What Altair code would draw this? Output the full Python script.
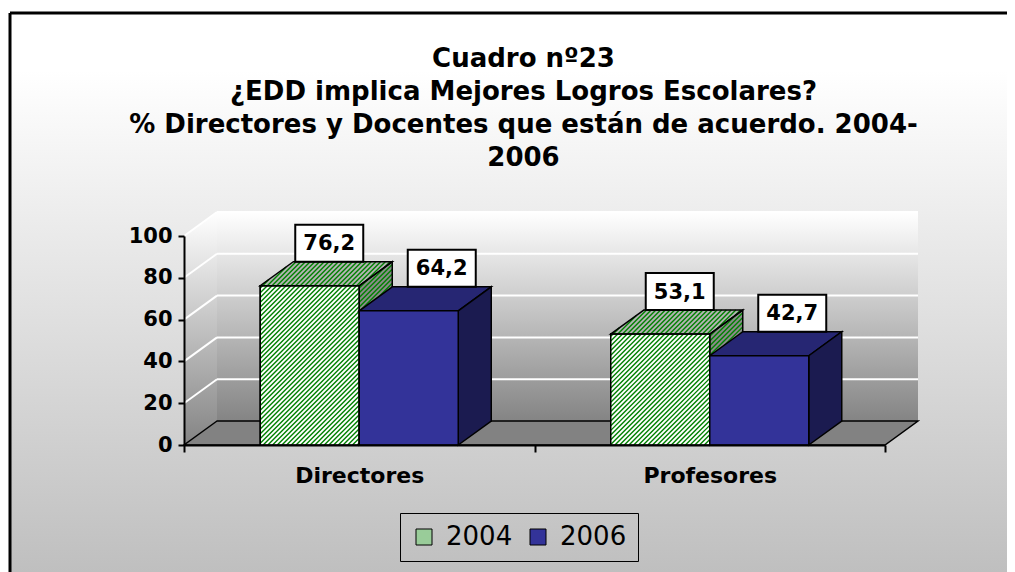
import altair as alt
import pandas as pd

# ---------------- data ----------------
categories = ["Directores", "Profesores"]
years = ["2004", "2006"]
values_2004 = [76.2, 53.1]
values_2006 = [64.2, 42.7]
y_ticks = [0, 20, 40, 60, 80, 100]
title_lines = [
    "Cuadro nº23",
    "¿EDD implica Mejores Logros Escolares?",
    "% Directores y Docentes que están de acuerdo. 2004-",
    "2006",
]

# ---------------- layout / style ----------------
W, H = 997, 575
X_RANGE = [174, 875]
Y_RANGE = [432, 223]
PX_X = (X_RANGE[1] - X_RANGE[0]) / 2.0
PX_Y = (Y_RANGE[0] - Y_RANGE[1]) / 100.0
BAR_W = 99 / PX_X
DX = 33 / PX_X
DY = 24 / PX_Y
FONT = "DejaVu Sans"
GREEN = "#008000"
HATCH_PERIOD = 4.7
HATCH_WIDTH = 1.4
BLUE_FRONT, BLUE_TOP, BLUE_SIDE = "#333399", "#262673", "#1b1b50"
LABEL_DX = {"2004": 19.5, "2006": 33}
BOX_W, BOX_H = 68, 37

wall_grad = {
    "gradient": "linear", "x1": 0, "y1": 0, "x2": 0, "y2": 1,
    "stops": [{"offset": 0, "color": "#ffffff"}, {"offset": 1, "color": "#848484"}],
}
bg_grad = {
    "gradient": "linear", "x1": 0, "y1": 0, "x2": 0, "y2": 1,
    "stops": [{"offset": 0, "color": "#ffffff"}, {"offset": 0.1, "color": "#ffffff"},
              {"offset": 1, "color": "#bdbdbd"}],
}


def hatch_segments(poly, face_id, period=HATCH_PERIOD):
    """Clip '/' stripes (u - w = c, pixel-like units) to a convex polygon given in data units."""
    P = [(x * PX_X, y * PX_Y) for x, y in poly]
    area = sum(P[i][0] * P[(i + 1) % len(P)][1] - P[(i + 1) % len(P)][0] * P[i][1]
               for i in range(len(P)))
    sgn = 1 if area > 0 else -1
    cs = [u - w for u, w in P]
    cmin, cmax = min(cs), max(cs)
    out = []
    c = cmin + period / 2
    while c < cmax:
        tmin, tmax = -1e9, 1e9
        ok = True
        for i in range(len(P)):
            a, b = P[i], P[(i + 1) % len(P)]
            nu, nw = -(b[1] - a[1]) * sgn, (b[0] - a[0]) * sgn
            den = nu + nw
            num = nu * (c - a[0]) - nw * a[1]
            if abs(den) < 1e-12:
                if num < 0:
                    ok = False
                    break
            elif den > 0:
                tmin = max(tmin, -num / den)
            else:
                tmax = min(tmax, -num / den)
        if ok and tmax - tmin > 0.3:
            out.append(dict(face=face_id,
                            xa=(c + tmin) / PX_X, ya=tmin / PX_Y,
                            xb=(c + tmax) / PX_X, yb=tmax / PX_Y))
        c += period
    return out


# ---------------- derived tables ----------------
rows, tops, sides, stripes = [], [], [], []
for i, c in enumerate(categories):
    for year, vals in zip(years, [values_2004, values_2006]):
        v = vals[i]
        center = i + 0.5
        x0 = center - BAR_W if year == "2004" else center
        x1 = x0 + BAR_W
        bid = f"{c}-{year}"
        rows.append(dict(id=bid, cat=c, year=year, value=v, x0=x0, x1=x1,
                         lx=(x0 + x1) / 2 + LABEL_DX[year] / PX_X))
        tops += [dict(id=bid, cat=c, year=year, y=v, xa=x0, xb=x1),
                 dict(id=bid, cat=c, year=year, y=v + DY, xa=x0 + DX, xb=x1 + DX)]
        sides += [dict(id=bid, cat=c, year=year, x=x1, ya=0, yb=v),
                  dict(id=bid, cat=c, year=year, x=x1 + DX, ya=DY, yb=v + DY)]
        if year == "2004":
            stripes += hatch_segments([(x0, 0), (x1, 0), (x1, v), (x0, v)], bid + "-front")
            stripes += hatch_segments([(x0, v), (x1, v), (x1 + DX, v + DY), (x0 + DX, v + DY)],
                                      bid + "-top")
            stripes += hatch_segments([(x1, 0), (x1 + DX, DY), (x1 + DX, v + DY), (x1, v)],
                                      bid + "-side")
bars = pd.DataFrame(rows)
tops = pd.DataFrame(tops)
sides = pd.DataFrame(sides)
stripes = pd.DataFrame(stripes)

wall = pd.DataFrame([dict(xa=DX, xb=2 + DX, ya=DY, yb=y_ticks[-1] + DY)])
left_wall = pd.DataFrame([dict(x=0, ya=0, yb=y_ticks[-1]), dict(x=DX, ya=DY, yb=y_ticks[-1] + DY)])
floor = pd.DataFrame([dict(y=0, xa=0, xb=2), dict(y=DY, xa=DX, xb=2 + DX)])
grid = []
for v in y_ticks[1:]:
    grid.append(dict(xa=0, ya=v, xb=DX, yb=v + DY))
    grid.append(dict(xa=DX, ya=v + DY, xb=2 + DX, yb=v + DY))
grid = pd.DataFrame(grid)

xs = alt.Scale(domain=[0, 2], range=X_RANGE, nice=False, zero=False)
ys = alt.Scale(domain=[0, 100], range=Y_RANGE, nice=False, zero=False)

label_expr = (f"datum.value == 0.5 ? '{categories[0]}' : "
              f"datum.value == 1.5 ? '{categories[1]}' : ''")
x_axis = alt.Axis(
    values=[0, 0.5, 1, 1.5, 2], title=None, grid=False, zindex=1,
    domainColor="black", domainWidth=2, tickColor="black", tickWidth=2, tickSize=7,
    tickOpacity={"condition": {"test": "datum.value % 1 != 0", "value": 0}, "value": 1},
    labelExpr=label_expr, labelFont=FONT, labelFontWeight="bold", labelFontSize=22,
    labelColor="black", labelPadding=13, labelOverlap=False, labelFlush=False,
    offset=-(H - Y_RANGE[0]),
)
y_axis = alt.Axis(
    values=y_ticks, title=None, grid=False, zindex=1,
    domainColor="black", domainWidth=2, tickColor="black", tickWidth=2, tickSize=6,
    labelFont=FONT, labelFontWeight="bold", labelFontSize=21, labelColor="black",
    labelPadding=6, offset=-X_RANGE[0],
)


def X(f):
    return alt.X(f, type="quantitative", scale=xs, axis=x_axis)


def Y(f):
    return alt.Y(f, type="quantitative", scale=ys, axis=y_axis)


def X2(f):
    return alt.X2(f)


def Y2(f):
    return alt.Y2(f)


layers = []
# chart background and frame (top and left edges; the rest runs off the page)
one = pd.DataFrame([{"bg": 1}])
layers.append(alt.Chart(one).mark_rect(fill=bg_grad).encode(
    x=alt.value(0), x2=alt.value(W), y=alt.value(0), y2=alt.value(H)))
layers.append(alt.Chart(one).mark_rule(color="black", strokeWidth=3).encode(
    x=alt.value(0), x2=alt.value(W), y=alt.value(0)))
layers.append(alt.Chart(one).mark_rule(color="black", strokeWidth=3).encode(
    x=alt.value(0), y=alt.value(0), y2=alt.value(H)))
# walls
layers.append(alt.Chart(wall).mark_rect(fill=wall_grad).encode(
    x=X("xa"), x2=X2("xb"), y=Y("ya"), y2=Y2("yb")))
layers.append(alt.Chart(left_wall).mark_area(orient="vertical", fill=wall_grad).encode(
    x=X("x"), y=Y("ya"), y2=Y2("yb")))
layers.append(alt.Chart(grid).mark_rule(color="white", strokeWidth=2).encode(
    x=X("xa"), x2=X2("xb"), y=Y("ya"), y2=Y2("yb")))
layers.append(alt.Chart(floor).mark_area(orient="horizontal", fill="#828282",
                                         stroke="black", strokeWidth=1.5).encode(
    y=Y("y"), x=X("xa"), x2=X2("xb")))

# front faces with legend (solid)
layers.append(alt.Chart(bars).mark_rect(stroke="black", strokeWidth=1.5, opacity=1).encode(
    x=X("x0"), x2=X2("x1"),
    y=Y("value"), y2=alt.Y2(datum=0),
    fill=alt.Fill("year:N", scale=alt.Scale(domain=years, range=["#99cc99", BLUE_FRONT]),
                  legend=alt.Legend(
                      orient="none", legendX=390, legendY=500, direction="horizontal",
                      title=None, symbolType="square", symbolSize=256,
                      symbolStrokeColor="black", symbolStrokeWidth=1,
                      labelFont=FONT, labelFontSize=26, labelColor="black",
                      strokeColor="black", padding=11, columnPadding=12, labelOffset=9,
                  )),
))

# 2004 hatched boxes: face fills, green stripes, outlines
f04 = "datum.year == '2004'"
layers.append(alt.Chart(tops).transform_filter(f04).mark_area(
    orient="horizontal", fill="#b4b4b4").encode(
    y=Y("y"), x=X("xa"), x2=X2("xb"), detail="id:N"))
layers.append(alt.Chart(sides).transform_filter(f04).mark_area(
    orient="vertical", fill="#8c8c8c").encode(
    x=X("x"), y=Y("ya"), y2=Y2("yb"), detail="id:N"))
layers.append(alt.Chart(bars).transform_filter(f04).mark_rect(fill="white").encode(
    x=X("x0"), x2=X2("x1"), y=Y("value"), y2=alt.Y2(datum=0)))
layers.append(alt.Chart(stripes).mark_rule(
    color=GREEN, strokeWidth=HATCH_WIDTH, strokeCap="butt").encode(
    x=X("xa"), x2=X2("xb"), y=Y("ya"), y2=Y2("yb")))
layers.append(alt.Chart(tops).transform_filter(f04).mark_area(
    orient="horizontal", fillOpacity=0, stroke="black", strokeWidth=1.5).encode(
    y=Y("y"), x=X("xa"), x2=X2("xb"), detail="id:N"))
layers.append(alt.Chart(sides).transform_filter(f04).mark_area(
    orient="vertical", fillOpacity=0, stroke="black", strokeWidth=1.5).encode(
    x=X("x"), y=Y("ya"), y2=Y2("yb"), detail="id:N"))
layers.append(alt.Chart(bars).transform_filter(f04).mark_rect(
    fillOpacity=0, stroke="black", strokeWidth=1.5).encode(
    x=X("x0"), x2=X2("x1"), y=Y("value"), y2=alt.Y2(datum=0)))

# 2006 solid boxes
f06 = "datum.year == '2006'"
layers.append(alt.Chart(tops).transform_filter(f06).mark_area(
    orient="horizontal", fill=BLUE_TOP, stroke="black", strokeWidth=1.5
).encode(y=Y("y"), x=X("xa"), x2=X2("xb"), detail="id:N"))
layers.append(alt.Chart(sides).transform_filter(f06).mark_area(
    orient="vertical", fill=BLUE_SIDE, stroke="black", strokeWidth=1.5
).encode(x=X("x"), y=Y("ya"), y2=Y2("yb"), detail="id:N"))
layers.append(alt.Chart(bars).transform_filter(f06).mark_rect(
    fill=BLUE_FRONT, stroke="black", strokeWidth=1.5
).encode(x=X("x0"), x2=X2("x1"), y=Y("value"), y2=alt.Y2(datum=0)))

# value labels
hh = BOX_H / BOX_W
box_path = f"M-1,-{hh:.4f}L1,-{hh:.4f}L1,{hh:.4f}L-1,{hh:.4f}Z"
lab_off = -(24 + BOX_H / 2)
layers.append(alt.Chart(bars).mark_point(
    shape=box_path, size=BOX_W ** 2, filled=True, fill="white", stroke="black",
    strokeWidth=2, opacity=1, yOffset=lab_off
).encode(x=X("lx"), y=Y("value")))
layers.append(alt.Chart(bars).transform_calculate(
    txt="replace(format(datum.value, '.1f'), '.', ',')"
).mark_text(
    font=FONT, fontWeight="bold", fontSize=21, color="black", baseline="middle",
    align="center", yOffset=lab_off + 1
).encode(x=X("lx"), y=Y("value"), text="txt:N"))

chart = alt.layer(*layers).properties(
    width=W, height=H,
    autosize=alt.AutoSizeParams(type="none"),
    padding={"left": 2, "top": 5, "right": 0, "bottom": 0},
    title=alt.Title(text=title_lines, font=FONT, fontSize=26, fontWeight="bold",
                    color="black", lineHeight=33, anchor="middle", frame="group",
                    offset=-159, dx=15),
).configure_view(
    strokeWidth=0, strokeOpacity=0
).configure(background="white")

chart.save("out.html", embed_options={"renderer": "svg", "actions": False})
